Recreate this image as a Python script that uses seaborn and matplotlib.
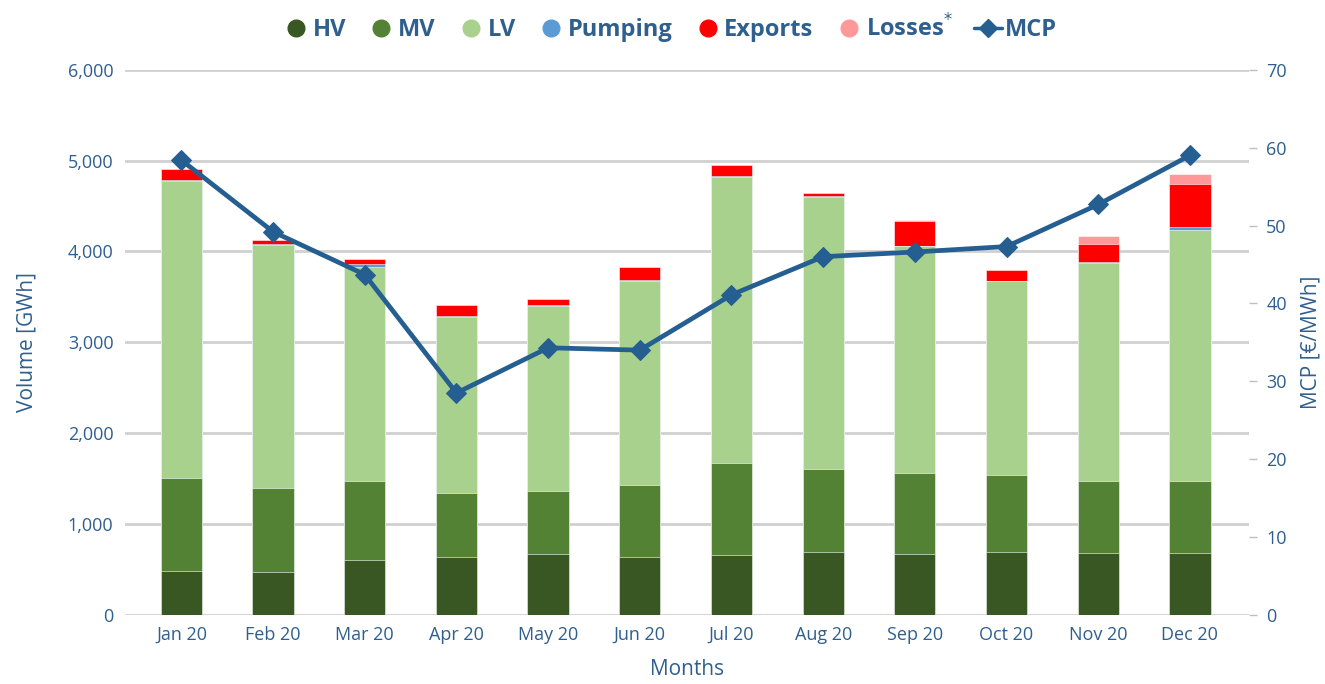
import matplotlib.pyplot as plt
from matplotlib.lines import Line2D
from matplotlib.ticker import FuncFormatter
import numpy as np
import pandas as pd
import seaborn as sns

months = ["Jan 20", "Feb 20", "Mar 20", "Apr 20", "May 20", "Jun 20",
          "Jul 20", "Aug 20", "Sep 20", "Oct 20", "Nov 20", "Dec 20"]
hv = [484, 473, 606, 642, 668, 635, 664, 697, 675, 697, 679, 686]
mv = [1024, 925, 866, 698, 697, 793, 1006, 910, 885, 841, 793, 793]
lv = [3270, 2676, 2359, 1937, 2035, 2249, 3152, 2995, 2495, 2132, 2400, 2752]
pumping = [5, 5, 26, 13, 8, 8, 5, 5, 10, 5, 8, 37]
exports = [120, 42, 62, 120, 67, 146, 127, 39, 273, 116, 201, 474]
losses = [0, 0, 0, 0, 0, 0, 0, 0, 10, 8, 92, 106]
mcp = [58.4, 49.2, 43.7, 28.5, 34.3, 34.0, 41.1, 46.0, 46.6, 47.3, 52.7, 59.0]

names = ["HV", "MV", "LV", "Pumping", "Exports", "Losses$^{*}$"]
colors = ["#385723", "#548235", "#A9D18E", "#5B9BD5", "#FF0000", "#FF9999"]
text_col = "#2F5F8F"
line_col = "#255E91"

df = pd.DataFrame({"month": months, "HV": hv, "MV": mv, "LV": lv,
                   "Pumping": pumping, "Exports": exports, "Losses": losses})
layers = ["HV", "MV", "LV", "Pumping", "Exports", "Losses"]
cum = df[layers].cumsum(axis=1)

sns.set_style("white")
plt.rcParams['font.family'] = ['Open Sans', 'DejaVu Sans']

fig, ax = plt.subplots(figsize=(13.25, 6.84), dpi=100)
fig.subplots_adjust(left=0.094, right=0.943, top=0.898, bottom=0.101)

# draw stacked bars from the top layer down
for layer, col in reversed(list(zip(layers, colors))):
    sns.barplot(x=df["month"], y=cum[layer], color=col, width=0.45,
                saturation=1, edgecolor="white", linewidth=0.4, ax=ax, zorder=3)

ax.set_ylim(0, 6000)
ax.set_yticks(range(0, 6001, 1000))
ax.yaxis.set_major_formatter(FuncFormatter(lambda v, p: f"{int(v):,}"))
ax.grid(axis="y", color="#D0D0D0", linewidth=2, zorder=0)
ax.set_axisbelow(True)
ax.set_xlabel("Months", fontsize=15, color=text_col, labelpad=11)
ax.set_ylabel("Volume [GWh]", fontsize=15, color=text_col, labelpad=22)
ax.tick_params(axis="both", labelsize=13, colors=text_col, length=0, pad=8)
for s in ax.spines.values():
    s.set_visible(False)
ax.set_xlim(-0.62, 11.65)

ax2 = ax.twinx()
sns.lineplot(x=np.arange(len(months)), y=mcp, ax=ax2, color=line_col,
             linewidth=3.4, marker="D", markersize=10, markeredgecolor=line_col,
             zorder=5)
ax2.set_ylim(0, 70)
ax2.set_yticks(range(0, 71, 10))
ax2.set_ylabel("MCP [€/MWh]", fontsize=15, color=text_col, labelpad=10)
ax2.tick_params(axis="y", labelsize=13, colors=text_col, length=6, width=1,
                direction="out", pad=6)
ax2.tick_params(axis="y", color="#BFBFBF")
for s in ax2.spines.values():
    s.set_visible(False)
ax2.grid(False)

handles = [Line2D([], [], marker="o", linestyle="none", markersize=12,
                  markerfacecolor=c, markeredgecolor=c) for c in colors]
handles.append(Line2D([], [], color=line_col, linewidth=2.5, marker="D",
                      markersize=9))
fig.legend(handles, names + ["MCP"], loc="center", bbox_to_anchor=(0.505, 0.958),
           ncol=7, frameon=False, handletextpad=0.1, columnspacing=0.9,
           handlelength=1.2, prop={"size": 17, "weight": "bold"},
           labelcolor=text_col)

fig.savefig("out.png", dpi=100)
